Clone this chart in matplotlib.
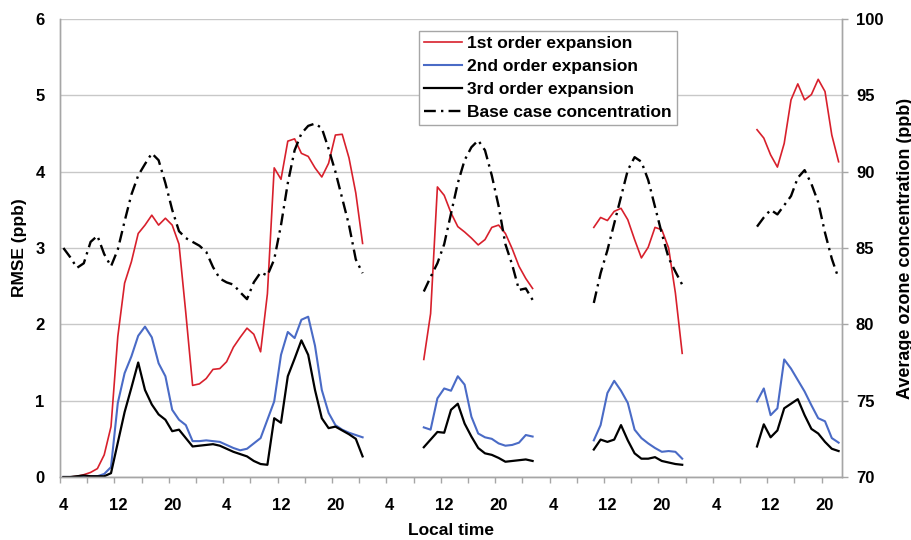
import numpy as np
import matplotlib
matplotlib.use('Agg')
import matplotlib.pyplot as plt
from matplotlib.ticker import FixedLocator

plt.rcParams['font.family'] = ['Liberation Sans', 'DejaVu Sans']
plt.rcParams['font.weight'] = 'bold'

# hourly categories starting at 04:00 on day 1; each block is one run of hours
seg_start = [0, 53, 78, 102]
tick_labels = ['4', '12', '20'] * 5

first_order = [
    [0.00, 0.00, 0.01, 0.03, 0.06, 0.11, 0.29, 0.66, 1.84, 2.54, 2.82, 3.19, 3.30, 3.43, 3.30,
     3.39, 3.30, 3.05, 2.15, 1.20, 1.22, 1.29, 1.41, 1.42, 1.51, 1.70, 1.83, 1.95, 1.87, 1.64,
     2.40, 4.05, 3.90, 4.40, 4.43, 4.24, 4.20, 4.05, 3.93, 4.11, 4.48, 4.49, 4.18, 3.72, 3.06],
    [1.54, 2.14, 3.80, 3.69, 3.46, 3.28, 3.21, 3.13, 3.04, 3.11, 3.27, 3.30, 3.19, 2.99, 2.76,
     2.60, 2.47],
    [3.27, 3.40, 3.36, 3.48, 3.52, 3.37, 3.11, 2.87, 3.01, 3.27, 3.24, 3.00, 2.41, 1.62],
    [4.55, 4.44, 4.22, 4.06, 4.37, 4.94, 5.15, 4.94, 5.01, 5.21, 5.05, 4.48, 4.13],
]

second_order = [
    [0.00, 0.00, 0.00, 0.01, 0.01, 0.01, 0.04, 0.13, 0.97, 1.36, 1.58, 1.85, 1.97, 1.83, 1.49,
     1.32, 0.88, 0.75, 0.68, 0.47, 0.47, 0.48, 0.47, 0.46, 0.42, 0.38, 0.35, 0.37, 0.44, 0.51,
     0.75, 0.99, 1.60, 1.90, 1.82, 2.06, 2.10, 1.72, 1.14, 0.84, 0.68, 0.62, 0.58, 0.55, 0.52],
    [0.65, 0.62, 1.03, 1.16, 1.13, 1.32, 1.21, 0.79, 0.57, 0.52, 0.50, 0.44, 0.41, 0.42, 0.45,
     0.55, 0.53],
    [0.48, 0.68, 1.10, 1.26, 1.13, 0.97, 0.62, 0.51, 0.44, 0.38, 0.33, 0.34, 0.33, 0.24],
    [0.99, 1.16, 0.81, 0.90, 1.54, 1.42, 1.27, 1.12, 0.94, 0.77, 0.73, 0.51, 0.45],
]

third_order = [
    [0.00, 0.00, 0.01, 0.02, 0.01, 0.01, 0.01, 0.05, 0.45, 0.85, 1.17, 1.50, 1.14, 0.95, 0.82,
     0.75, 0.60, 0.62, 0.51, 0.40, 0.41, 0.42, 0.43, 0.41, 0.37, 0.33, 0.30, 0.27, 0.21, 0.17,
     0.16, 0.77, 0.71, 1.32, 1.55, 1.79, 1.60, 1.14, 0.77, 0.64, 0.66, 0.61, 0.56, 0.50, 0.27],
    [0.39, 0.49, 0.59, 0.58, 0.88, 0.96, 0.70, 0.53, 0.38, 0.31, 0.29, 0.25, 0.20, 0.21, 0.22,
     0.23, 0.21],
    [0.36, 0.49, 0.46, 0.49, 0.68, 0.48, 0.31, 0.24, 0.24, 0.26, 0.21, 0.19, 0.17, 0.16],
    [0.40, 0.69, 0.52, 0.61, 0.90, 0.96, 1.02, 0.81, 0.63, 0.57, 0.46, 0.37, 0.34],
]

base_case = [
    [85.0, 84.4, 83.7, 84.0, 85.4, 85.8, 84.6, 83.8, 84.9, 86.75, 88.5, 89.75, 90.5, 91.2, 90.75,
     89.25, 87.5, 86.1, 85.65, 85.4, 85.15, 84.75, 83.75, 83.0, 82.75, 82.6, 82.1, 81.65, 82.75,
     83.4, 83.2, 84.25, 86.5, 89.25, 91.4, 92.5, 93.0, 93.15, 92.85, 91.5, 90.0, 88.25, 86.5,
     84.25, 83.35],
    [82.15, 83.1, 84.0, 85.25, 87.25, 89.25, 90.75, 91.6, 92.05, 91.4, 89.75, 87.75, 85.25, 83.9,
     82.25, 82.35, 81.6],
    [81.4, 83.35, 84.85, 86.6, 88.35, 90.1, 90.95, 90.65, 89.45, 87.7, 85.95, 84.35, 83.45, 82.6],
    [86.4, 87.0, 87.5, 87.2, 87.8, 88.4, 89.6, 90.1, 89.2, 88.0, 86.0, 84.3, 83.0],
]

n_hours = 115
grey = '#A6A6A6'

fig = plt.figure(figsize=(9.12, 5.4), dpi=100)
ax = fig.add_axes([60 / 912, 1 - 477 / 540, 782 / 912, 458 / 540])
ax2 = ax.twinx()

styles = [
    (first_order, '#D8202C', 1.2, '1st order expansion'),
    (second_order, '#4A6BC6', 1.5, '2nd order expansion'),
    (third_order, '#000000', 1.6, '3rd order expansion'),
]
handles = []
for series, color, lw, label in styles:
    for k, (start, vals) in enumerate(zip(seg_start, series)):
        x = np.arange(start, start + len(vals))
        line, = ax.plot(x, vals, color=color, lw=lw, label=label if k == 0 else None)
        if k == 0:
            handles.append(line)

for k, (start, vals) in enumerate(zip(seg_start, base_case)):
    x = np.arange(start, start + len(vals))
    line, = ax2.plot(x, vals, color='black', lw=1.7, dashes=(5, 2.2, 1, 2.2))
    if k == 0:
        line.set_label('Base case concentration')
        handles.append(line)

# axes, ticks, grid
ax.set_xlim(-0.5, n_hours - 0.5)
ax.set_ylim(0, 6)
ax2.set_ylim(70, 100)
ax.set_yticks(np.arange(0, 7, 1))
ax2.set_yticks(np.arange(70, 101, 5))
ax.yaxis.grid(True, color='#C8C8C8', lw=1)
ax.set_axisbelow(True)

label_pos = np.arange(0, n_hours, 8)
ax.xaxis.set_major_locator(FixedLocator(label_pos))
ax.set_xticklabels(tick_labels)
ax.xaxis.set_minor_locator(FixedLocator(np.arange(-0.5, n_hours - 1, 4)))
ax.tick_params(axis='x', which='major', length=0, pad=15, labelsize=12)
ax.tick_params(axis='x', which='minor', length=4, color=grey, width=1)
ax.tick_params(axis='y', length=0, pad=11, labelsize=12)
ax2.tick_params(axis='y', length=4, color=grey, width=1, pad=6, labelsize=12)

for a in (ax, ax2):
    a.spines['top'].set_visible(False)
    for s in ('left', 'right', 'bottom'):
        a.spines[s].set_color(grey)
        a.spines[s].set_linewidth(1)

ax.set_ylabel('RMSE (ppb)', fontsize=12.5, fontweight='bold')
ax.yaxis.set_label_coords(-0.042, 0.5)
ax2.set_ylabel('Average ozone concentration (ppb)', fontsize=13, fontweight='bold')
ax2.yaxis.set_label_coords(1.07, 0.5)
ax.set_xlabel('Local time', fontsize=12.5, fontweight='bold')
ax.xaxis.set_label_coords(0.5, -0.1)

leg = ax2.legend(handles=handles, loc='upper left', bbox_to_anchor=(0.459, 0.974),
                 fontsize=12.5, frameon=True, fancybox=False, framealpha=1,
                 edgecolor=grey, handlelength=2.2, handletextpad=0.25,
                 labelspacing=0.45, borderpad=0.3, borderaxespad=0)
leg.get_frame().set_linewidth(1)

plt.savefig('out.png', dpi=100)
